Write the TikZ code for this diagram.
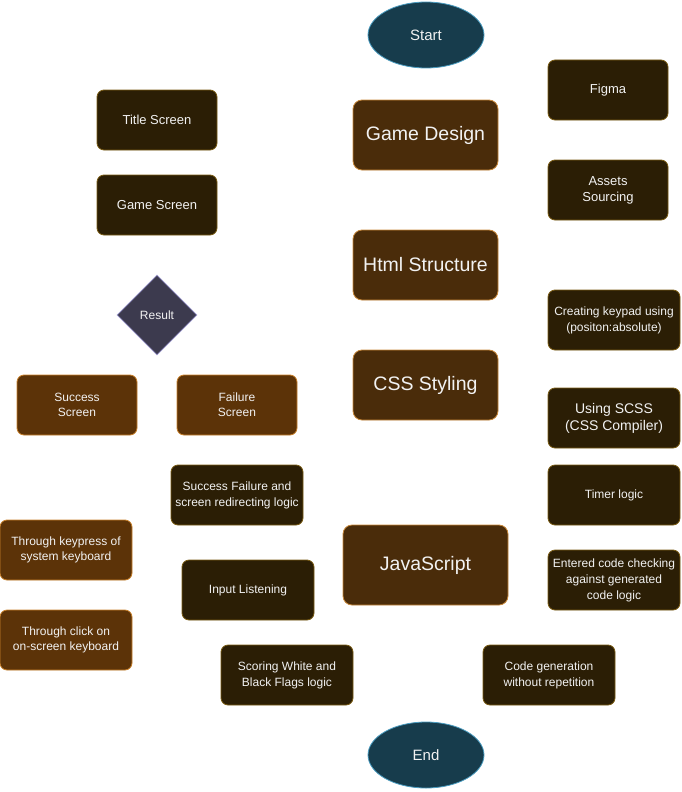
\documentclass[tikz,border=0pt]{standalone}
\usepackage{fontspec}
\setmainfont{Liberation Sans}
\usetikzlibrary{shapes.geometric}
\definecolor{ellfill}{HTML}{173C4C}
\definecolor{elldraw}{HTML}{4A9CC0}
\definecolor{bigfill}{HTML}{4A2C0A}
\definecolor{bigdraw}{HTML}{C8883A}
\definecolor{medfill}{HTML}{5C3308}
\definecolor{meddraw}{HTML}{C8802A}
\definecolor{darkfill}{HTML}{2B1E05}
\definecolor{darkdraw}{HTML}{7A5C14}
\definecolor{diafill}{HTML}{3C3A4E}
\definecolor{diadraw}{HTML}{A09CD0}
\definecolor{txt}{HTML}{F2F2F2}
\tikzset{
  base/.style={text=txt, line width=0.8pt, align=center, inner sep=1pt},
  term/.style={base, ellipse, fill=ellfill, draw=elldraw, minimum width=116pt, minimum height=66pt, font=\fontsize{15}{18}\selectfont},
  bigbox/.style={base, rounded corners=9pt, fill=bigfill, draw=bigdraw, minimum width=145pt, minimum height=70pt, font=\fontsize{19.5}{23}\selectfont},
  medbox/.style={base, rounded corners=7pt, fill=medfill, draw=meddraw, minimum width=120pt, minimum height=60pt, font=\fontsize{12}{15}\selectfont},
  darkbox/.style={base, rounded corners=7pt, fill=darkfill, draw=darkdraw, minimum width=120pt, minimum height=60pt, font=\fontsize{13}{16}\selectfont},
  widebox/.style={darkbox, minimum width=132pt, font=\fontsize{12}{16}\selectfont},
  dia/.style={base, diamond, fill=diafill, draw=diadraw, minimum width=80pt, minimum height=80pt, inner sep=0pt, font=\fontsize{12}{15}\selectfont},
}
\begin{document}
\begin{tikzpicture}[x=1pt,y=-1pt]
\useasboundingbox (0,0) rectangle (681,792);
\node[term] (start) at (426,35) {Start};
\node[term] (end) at (426,755) {End};
\node[bigbox] (gd) at (425.5,135) {Game Design};
\node[bigbox] (html) at (425.5,265) {Html Structure};
\node[bigbox] (css) at (425.5,385) {CSS Styling};
\node[bigbox, minimum width=165pt, minimum height=80pt] (js) at (425.5,565) {JavaScript};
\node[darkbox] (figma) at (608,90) {Figma};
\node[darkbox] (assets) at (608,190) {Assets\\Sourcing};
\node[darkbox] (title) at (157,120) {Title Screen};
\node[darkbox] (game) at (157,205) {Game Screen};
\node[dia] (result) at (157,315) {Result};
\node[medbox] (succ) at (77,405) {Success\\Screen};
\node[medbox] (fail) at (237,405) {Failure\\Screen};
\node[widebox] (keypad) at (614,320) {Creating keypad using\\(positon:absolute)};
\node[widebox, font=\fontsize{14}{17}\selectfont] (scss) at (614,418) {Using SCSS\\(CSS Compiler)};
\node[widebox] (timer) at (614,495) {Timer logic};
\node[widebox] (redir) at (237,495) {Success Failure and\\screen redirecting logic};
\node[medbox, minimum width=132pt] (keypress) at (66,550) {Through keypress of\\system keyboard};
\node[medbox, minimum width=132pt] (click) at (66,640) {Through click on\\on-screen keyboard};
\node[widebox] (check) at (614,580) {Entered code checking\\against generated\\code logic};
\node[widebox] (input) at (248,590) {Input Listening};
\node[widebox] (score) at (287,675) {Scoring White and\\Black Flags logic};
\node[widebox] (codegen) at (549,675) {Code generation\\without repetition};
\end{tikzpicture}
\end{document}
